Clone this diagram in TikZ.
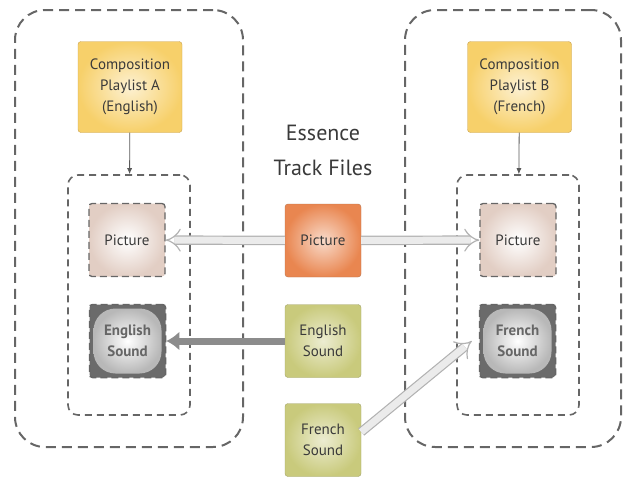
\documentclass[tikz,border=0pt]{standalone}
\usepackage{fontspec}
\setmainfont{PT Sans}
\usepackage{tikz}
\usetikzlibrary{calc,positioning,arrows.meta,shapes}

\definecolor{txt}{HTML}{3A3A3A}
\definecolor{dashgray}{HTML}{666666}
\definecolor{cplfill}{HTML}{F7D06A}
\definecolor{cplline}{HTML}{C9A24E}
\definecolor{picfill}{HTML}{E98650}
\definecolor{picline}{HTML}{B9754F}
\definecolor{sndfill}{HTML}{C9CA7C}
\definecolor{sndline}{HTML}{A3A46A}
\definecolor{ghost}{HTML}{E2CEC4}

\begin{document}
\begin{tikzpicture}[x=1pt,y=-1pt]
\tikzstyle{every node}=[font=\fontsize{15}{21}\selectfont, text=txt,
                        align=center, inner sep=0pt]
\tikzstyle{grp}=[draw=dashgray, line width=2pt, dash pattern=on 10pt off 6pt,
                 rounded corners=30pt]
\tikzstyle{trk}=[draw=dashgray, line width=1.6pt, dash pattern=on 7pt off 5pt,
                 rounded corners=10pt, minimum width=122pt, minimum height=240pt]
\tikzstyle{cpl}=[draw=cplline, rounded corners=3pt, inner color=cplfill!30,
                 outer color=cplfill, minimum width=104pt, minimum height=91pt]
\tikzstyle{ess}=[rounded corners=3pt, minimum width=76pt, minimum height=73pt]
\tikzstyle{ghostpic}=[ess, draw=dashgray, dash pattern=on 7pt off 4pt, line width=1.3pt,
                      inner color=white, outer color=ghost]
\tikzstyle{ghostsnd}=[ess, draw=dashgray, dash pattern=on 7pt off 4pt, line width=1.5pt,
                      path picture={
                        \fill[black!58] (path picture bounding box.south west)
                          rectangle (path picture bounding box.north east);
                        \shade[inner color=white, outer color=black!28, rounded corners=22pt]
                          ($(path picture bounding box.south west)+(4pt,4pt)$)
                          rectangle ($(path picture bounding box.north east)-(4pt,4pt)$);
                      }]
\tikzstyle{hollow}=[draw=black!30, line width=1.2pt, double=black!8,
                    double distance=7pt, -{Implies}]
\useasboundingbox (0,0) rectangle (623,477);

% groups
\node[grp, minimum width=228pt, minimum height=437pt] (grpA) at (129,228.5) {};
\node[grp, minimum width=216pt, minimum height=437pt] (grpB) at (513,228.5) {};
\node[trk] (trkA) at (129,295) {};
\node[trk] (trkB) at (518,295) {};

% playlists
\node[cpl] (cplA) at (130,87) {Composition\\Playlist A\\(English)};
\node[cpl] (cplB) at (519.5,87) {Composition\\Playlist B\\(French)};

% track files
\node[font=\fontsize{22}{35}\selectfont] (title) at (323,150) {Essence\\Track Files};
\node[ess, draw=picline, inner color=picfill!30, outer color=picfill] (pic) at (323,240.5) {Picture};
\node[ess, draw=sndline, inner color=sndfill!35, outer color=sndfill] (eng) at (323,341) {English\\Sound};
\node[ess, draw=sndline, inner color=sndfill!35, outer color=sndfill] (fre) at (323,440) {French\\Sound};

% referenced tracks
\node[ghostpic] (picA) at (127,240) {Picture};
\node[ghostsnd, text=black!60] (sndA) at (127.5,341) {\bfseries English\\\bfseries Sound};
\node[ghostpic] (picB) at (518,240) {Picture};
\node[ghostsnd, text=black!60] (sndB) at (517.5,341) {\bfseries French\\\bfseries Sound};

\draw[black!65, line width=0.8pt, -{Latex[length=6pt,width=5pt]}] (cplA) -- (trkA);
\draw[black!65, line width=0.8pt, -{Latex[length=6pt,width=5pt]}] (cplB) -- (trkB);

\draw[hollow] (pic) -- (picA);
\draw[hollow] (pic) -- (picB);
\draw[black!45, line width=7pt, -{Latex[length=13pt,width=19pt]}] (eng) -- (sndA);
\draw[hollow] ([yshift=8pt]fre.east) -- ([xshift=-7pt]sndB.west);
\end{tikzpicture}
\end{document}
